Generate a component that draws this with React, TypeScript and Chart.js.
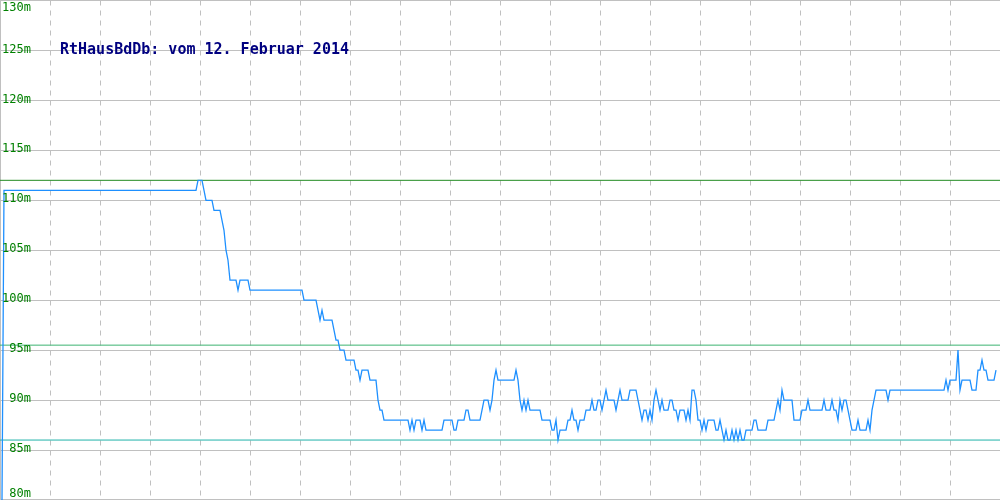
import React, { useEffect, useRef } from "react";
import { Chart, registerables } from "chart.js";

Chart.register(...registerables);

const chartTitle = "RtHausBdDb: vom 12. Februar 2014";
const unitSuffix = "m";

// Sampled level values, one sample every 2 px column (sample index 1..498)
const levels: number[] = [
  80, 111, 111, 111, 111, 111, 111, 111, 111, 111,
  111, 111, 111, 111, 111, 111, 111, 111, 111, 111,
  111, 111, 111, 111, 111, 111, 111, 111, 111, 111,
  111, 111, 111, 111, 111, 111, 111, 111, 111, 111,
  111, 111, 111, 111, 111, 111, 111, 111, 111, 111,
  111, 111, 111, 111, 111, 111, 111, 111, 111, 111,
  111, 111, 111, 111, 111, 111, 111, 111, 111, 111,
  111, 111, 111, 111, 111, 111, 111, 111, 111, 111,
  111, 111, 111, 111, 111, 111, 111, 111, 111, 111,
  111, 111, 111, 111, 111, 111, 111, 111, 112, 112,
  112, 111, 110, 110, 110, 110, 109, 109, 109, 109,
  108, 107, 105, 104, 102, 102, 102, 102, 101, 102,
  102, 102, 102, 102, 101, 101, 101, 101, 101, 101,
  101, 101, 101, 101, 101, 101, 101, 101, 101, 101,
  101, 101, 101, 101, 101, 101, 101, 101, 101, 101,
  101, 100, 100, 100, 100, 100, 100, 100, 99, 98,
  99, 98, 98, 98, 98, 98, 97, 96, 96, 95,
  95, 95, 94, 94, 94, 94, 94, 93, 93, 92,
  93, 93, 93, 93, 92, 92, 92, 92, 90, 89,
  89, 88, 88, 88, 88, 88, 88, 88, 88, 88,
  88, 88, 88, 88, 87, 88, 87, 88, 88, 88,
  87, 88, 87, 87, 87, 87, 87, 87, 87, 87,
  87, 88, 88, 88, 88, 88, 87, 87, 88, 88,
  88, 88, 89, 89, 88, 88, 88, 88, 88, 88,
  89, 90, 90, 90, 89, 90, 92, 93, 92, 92,
  92, 92, 92, 92, 92, 92, 92, 93, 92, 90,
  89, 90, 89, 90, 89, 89, 89, 89, 89, 89,
  88, 88, 88, 88, 88, 87, 87, 88, 86, 87,
  87, 87, 87, 88, 88, 89, 88, 88, 87, 88,
  88, 88, 89, 89, 89, 90, 89, 89, 90, 90,
  89, 90, 91, 90, 90, 90, 90, 89, 90, 91,
  90, 90, 90, 90, 91, 91, 91, 91, 90, 89,
  88, 89, 89, 88, 89, 88, 90, 91, 90, 89,
  90, 89, 89, 89, 90, 90, 89, 89, 88, 89,
  89, 89, 88, 89, 88, 91, 91, 90, 88, 88,
  87, 88, 87, 88, 88, 88, 88, 87, 87, 88,
  87, 86, 87, 86, 86, 87, 86, 87, 86, 87,
  86, 86, 87, 87, 87, 87, 88, 88, 87, 87,
  87, 87, 87, 88, 88, 88, 88, 89, 90, 89,
  91, 90, 90, 90, 90, 90, 88, 88, 88, 88,
  89, 89, 89, 90, 89, 89, 89, 89, 89, 89,
  89, 90, 89, 89, 89, 90, 89, 89, 88, 90,
  89, 90, 90, 89, 88, 87, 87, 87, 88, 87,
  87, 87, 87, 88, 87, 89, 90, 91, 91, 91,
  91, 91, 91, 90, 91, 91, 91, 91, 91, 91,
  91, 91, 91, 91, 91, 91, 91, 91, 91, 91,
  91, 91, 91, 91, 91, 91, 91, 91, 91, 91,
  91, 91, 92, 91, 92, 92, 92, 92, 95, 91,
  92, 92, 92, 92, 92, 91, 91, 91, 93, 93,
  94, 93, 93, 92, 92, 92, 92, 93,
];

const maxLevel = 112;
const avgLevel = 95.5;
const minLevel = 86;

const yMin = 80;
const yMax = 130;
const yStep = 5;
const sampleCount = 500;
const xGridStep = 25;

export default function App() {
  const canvasRef = useRef<HTMLCanvasElement>(null);

  useEffect(() => {
    document.body.style.margin = "0";
    const canvas = canvasRef.current;
    if (!canvas) return;

    const points = levels.map((v, k) => ({ x: k + 1, y: v }));
    const flat = (v: number) => [
      { x: 0, y: v },
      { x: sampleCount, y: v },
    ];

    const overlay = {
      id: "overlay",
      beforeDatasetsDraw(chart: any) {
        const ctx = chart.ctx;
        const h = chart.height;
        ctx.save();
        ctx.strokeStyle = "#c0c0c0";
        ctx.lineWidth = 1;
        ctx.beginPath();
        ctx.moveTo(0, h - 0.5);
        ctx.lineTo(chart.width, h - 0.5);
        ctx.stroke();
        ctx.restore();
      },
      afterDraw(chart: any) {
        const ctx = chart.ctx;
        const yScale = chart.scales.y;
        const h = chart.height;
        ctx.save();
        ctx.font = "12px 'DejaVu Sans Mono'";
        ctx.fillStyle = "#008000";
        ctx.textAlign = "right";
        ctx.textBaseline = "middle";
        for (const t of yScale.ticks) {
          const py = yScale.getPixelForValue(t.value) - 1;
          const cy = Math.min(Math.max(py, 8), h - 6);
          ctx.fillText(`${t.value}${unitSuffix}`, 31, cy);
        }
        ctx.font = "bold 15px 'DejaVu Sans Mono'";
        ctx.fillStyle = "#000080";
        ctx.textAlign = "left";
        ctx.textBaseline = "alphabetic";
        ctx.fillText(chartTitle, 60, 54);
        ctx.restore();
      },
    };

    const chart = new Chart(canvas, {
      type: "line",
      data: {
        datasets: [
          {
            label: "Level",
            data: points,
            borderColor: "#1e90ff",
            borderWidth: 1.3,
            pointRadius: 0,
            fill: false,
            tension: 0,
          },
          {
            label: "Max",
            data: flat(maxLevel),
            borderColor: "#228b22",
            borderWidth: 1,
            pointRadius: 0,
          },
          {
            label: "Mittel",
            data: flat(avgLevel),
            borderColor: "#3cb371",
            borderWidth: 1,
            pointRadius: 0,
          },
          {
            label: "Min",
            data: flat(minLevel),
            borderColor: "#20b2aa",
            borderWidth: 1,
            pointRadius: 0,
          },
        ],
      },
      options: {
        animation: false,
        responsive: true,
        maintainAspectRatio: false,
        layout: { padding: { top: 0.5, bottom: -0.5, left: 0, right: 0 } },
        plugins: {
          legend: { display: false },
          title: { display: false },
          tooltip: { enabled: false },
        },
        scales: {
          x: {
            type: "linear",
            min: 0,
            max: sampleCount,
            ticks: { display: false, stepSize: xGridStep },
            grid: { color: "#c0c0c0", lineWidth: 1, drawTicks: false },
            border: { display: false, dash: [5, 5] },
          },
          y: {
            type: "linear",
            min: yMin,
            max: yMax,
            ticks: { display: false, stepSize: yStep },
            grid: { color: "#c0c0c0", lineWidth: 1, drawTicks: false },
            border: { display: true, color: "#c0c0c0", width: 1 },
          },
        },
      },
      plugins: [overlay],
    });

    return () => chart.destroy();
  }, []);

  return (
    <div style={{ width: 1000, height: 500, position: "relative" }}>
      <canvas ref={canvasRef} />
    </div>
  );
}
